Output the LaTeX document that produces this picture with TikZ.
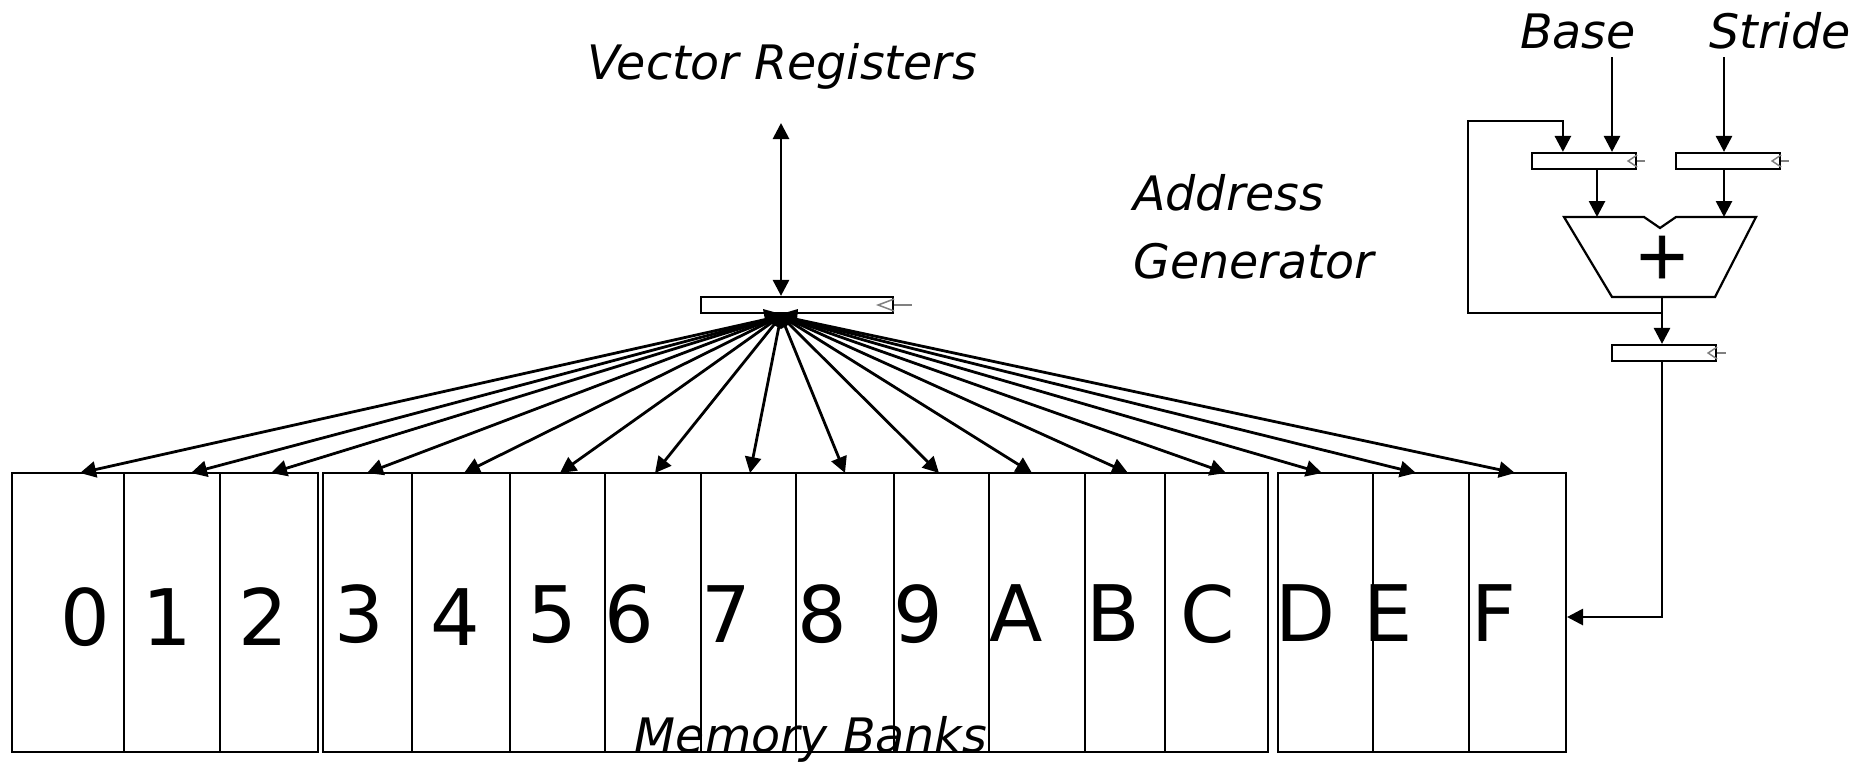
\documentclass[tikz,border=0pt]{standalone}
\usepackage{fontspec}
\setmainfont{DejaVu Sans}
\newfontfamily\plusfont[FakeBold=1.2]{DejaVu Sans}
\usetikzlibrary{arrows.meta,calc}

% clock mark of a register: open triangle at the right end plus a short stub
\newcommand{\clockmark}[3]{%
  \draw[clk] ($(#1.east)+(0,-6)$) -- ($(#1.east)+(-#2,0)$) -- ($(#1.east)+(0,6)$);
  \draw[clk] (#1.east) -- ++(#3,0);}

\begin{document}
\begin{tikzpicture}[x=1pt,y=-1pt,
  wire/.style={line width=2.8pt},
  tip/.tip={Triangle[length=16pt,width=16pt]},
  arr/.style={wire,-tip},
  box/.style={line width=2.2pt},
  reg/.style={draw,line width=2.2pt,minimum height=16pt,inner sep=0pt,fill=white},
  clk/.style={draw=gray,line width=1.5pt},
  lbl/.style={font=\fontsize{47.5}{56}\selectfont\itshape,inner sep=0pt},
  bankno/.style={font=\fontsize{78}{90}\selectfont,inner sep=0pt,anchor=base},
]
\useasboundingbox (0,0) rectangle (1876,761);

% ---------------- memory banks ----------------
\foreach \l/\r in {12/124,124/220,220/318,323/412,412/510,510/605,605/701,701/796,
                   796/894,894/989,989/1085,1085/1165,1165/1268,1278/1373,1373/1469,1469/1566}
  \draw[box] (\l,473) rectangle (\r,752);

\foreach \t/\x/\y in {0/85/645,1/167/645,2/263/645,3/359/642,4/455/645,5/552/642,
                      6/629/642,7/726/642,8/822/642,9/918/642,A/1016/641,B/1113/641,
                      C/1208/642,D/1306/641,E/1388/641,F/1494/641}
  \node[bankno] (n\t) at (\x,\y) {\t};

\node[lbl,anchor=base] (mblabel) at (811,752) {Memory Banks};

% ---------------- vector register and fan-out ----------------
\node[lbl,anchor=base] (vrlabel) at (782,79) {Vector Registers};
\node[reg,minimum width=192pt] (vreg) at (797,305) {};
\clockmark{vreg}{16}{18}

\coordinate (vrtop) at (781,123);
\draw[wire,tip-tip] (vrtop) -- (vrtop |- vreg.north);

\coordinate (fan) at (781,316);
% merged roots of the fan-out wires just under the register
\fill (763,309) -- (781,314) -- (798,309) -- (797,320) -- (781,329) -- (765,320) -- cycle;
\foreach \t/\x in {0/80,1/191,2/271,3/367,4/464,5/560,6/655,7/750,8/845,9/939,
                   A/1032,B/1128,C/1226,D/1322,E/1416,F/1515}{
  \coordinate (t\t) at (\x,473);
  \draw[arr] (fan) -- (t\t);
}

% ---------------- address generator ----------------
\node[lbl,anchor=base west] (ag1) at (1133,210) {Address};
\node[lbl,anchor=base west] (ag2) at (1133,278) {Generator};
\node[lbl,anchor=base] (base) at (1578,48) {Base};
\node[lbl,anchor=base] (stride) at (1780,48) {Stride};

\node[reg,minimum width=104pt] (breg) at (1584,161) {};
\node[reg,minimum width=104pt] (sreg) at (1728,161) {};
\node[reg,minimum width=104pt] (oreg) at (1664,353) {};
\clockmark{breg}{9}{8}
\clockmark{sreg}{9}{8}
\clockmark{oreg}{9}{9}

% adder with notched top edge
\draw[box] (1564,217) -- (1644,217) -- (1660,228) -- (1676,217) -- (1756,217)
  -- (1715,297) -- (1612,297) -- cycle;
\coordinate (addA) at (1597,217);
\coordinate (addB) at (1724,217);
\coordinate (addO) at (1662,297);
\node[font=\plusfont\fontsize{67}{80}\selectfont,inner sep=0pt] (plus) at (1662,257) {+};

\coordinate (basein) at (1612,57);
\coordinate (stridein) at (1724,57);
\draw[arr] (basein) -- (basein |- breg.north);
\draw[arr] (stridein) -- (stridein |- sreg.north);
\draw[arr] (breg.south -| addA) -- (addA);
\draw[arr] (sreg.south -| addB) -- (addB);
\draw[arr] (addO) -- (addO |- oreg.north);

% feedback of the sum into the base register
\coordinate (fb) at (1662,313);
\coordinate (fbcorner) at (1468,121);
\coordinate (fbin) at ($(breg.north west)+(32,0)$);
\draw[arr] (fb) -| (fbcorner) -| (fbin);

% address into the banks
\coordinate (fin) at (1567,617);
\draw[arr] (oreg.south -| addO) |- (fin);
\end{tikzpicture}
\end{document}
